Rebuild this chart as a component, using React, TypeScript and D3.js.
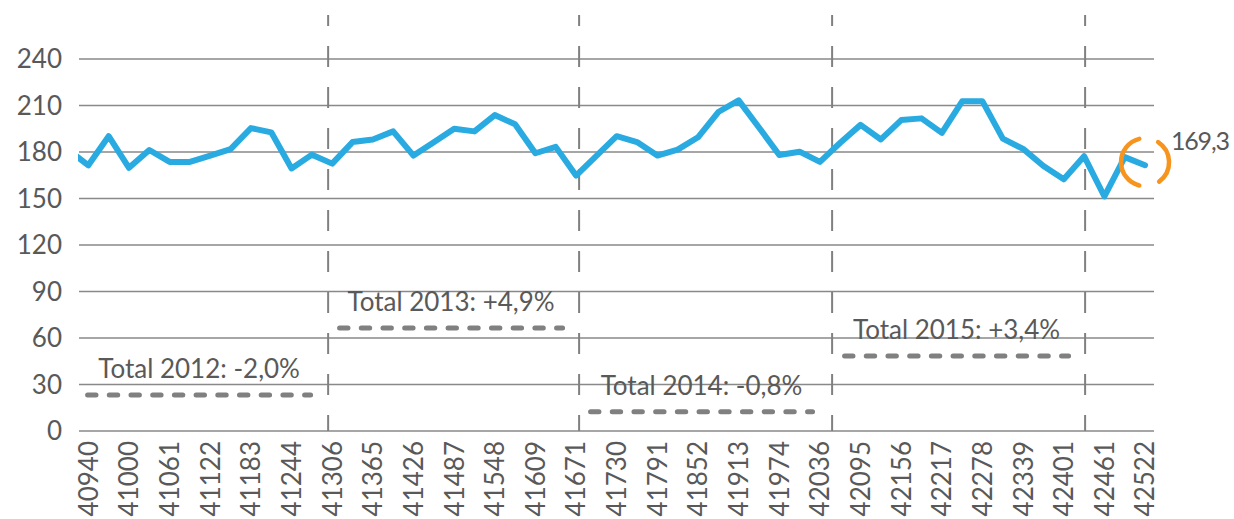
import React from "react";
import * as d3 from "d3";

// Monthly values, Jan 2012 .. Jun 2016 (Jan 2012 falls just left of the plot and is clipped)
const values2012 = [181.5, 171.4, 190.2, 169.8, 181.3, 173.6, 173.6, 177.7, 181.9, 195.4, 192.7, 169.4];
const values2013 = [178.3, 172.5, 186.4, 188.1, 193.3, 177.7, 186.3, 195.0, 193.3, 203.8, 197.9, 179.2];
const values2014 = [183.3, 164.8, 177.5, 190.2, 186.4, 177.7, 181.5, 189.5, 205.8, 213.3, 195.8, 178.1];
const values2015 = [180.2, 173.6, 186.0, 197.5, 188.1, 200.6, 201.7, 192.3, 212.7, 212.7, 188.6, 182.0];
const values2016 = [171.0, 162.4, 177.3, 151.3, 176.7, 171.5];
const values = [...values2012, ...values2013, ...values2014, ...values2015, ...values2016];

// Category labels (Excel date serials), one every two months starting Feb 2012 (index 1)
const tickLabels = [
  "40940", "41000", "41061", "41122", "41183", "41244", "41306", "41365", "41426",
  "41487", "41548", "41609", "41671", "41730", "41791", "41852", "41913", "41974",
  "42036", "42095", "42156", "42217", "42278", "42339", "42401", "42461", "42522",
];
const yTicks = [0, 30, 60, 90, 120, 150, 180, 210, 240];

// Year dividers (in month-index units)
const dividers = [12.8, 25.15, 37.6, 50.05];

// Annual annotations
const annoTexts = ["Total 2012: -2,0%", "Total 2013: +4,9%", "Total 2014: -0,8%", "Total 2015: +3,4%"];
const annoLevels = [23.2, 66.5, 12.5, 48.4];
const annoStarts = [0.84, 13.24, 25.59, 38.09];
const annoEnds = [12.06, 24.46, 36.76, 49.36];

const lastLabel = "169,3";

const W = 1234;
const H = 519;
const FONT = "Lato, 'Open Sans', sans-serif";
const TEXT = "#595959";
const GRID = "#898989";

export default function App() {
  const x = d3.scaleLinear().domain([0.54, 53.44]).range([79, 1154]);
  const y = d3.scaleLinear().domain([0, 240]).range([431, 59]);
  const [x0, x1] = x.range();
  const plotTop = 15;

  const line = d3
    .line<number>()
    .x((_, i) => x(i))
    .y((d) => y(d));

  const lastI = values.length - 1;
  const cx = x(lastI);
  const cy = y(values[lastI]) - 3;
  const r = 24;
  const deg = Math.PI / 180;
  const arcPath = (a0: number, a1: number) => {
    const p = d3.path();
    p.arc(cx, cy, r, a0 * deg, a1 * deg);
    return p.toString();
  };

  return (
    <div style={{ position: "absolute", left: 0, top: 0 }}>
      <svg width={W} height={H} style={{ display: "block", background: "#fff" }}>
        <defs>
          <clipPath id="plot">
            <rect x={x0 - 1} y={0} width={x1 - x0 + 2} height={H} />
          </clipPath>
        </defs>

        {/* horizontal gridlines */}
        {yTicks.map((t) => (
          <line key={t} x1={x0} x2={x1} y1={y(t)} y2={y(t)} stroke={GRID} strokeWidth={1.6} />
        ))}

        {/* y labels */}
        {yTicks.map((t) => (
          <text
            key={"yl" + t}
            x={62}
            y={y(t)}
            dy="0.36em"
            textAnchor="end"
            fontFamily={FONT}
            fontSize={26}
            fill={TEXT}
          >
            {t}
          </text>
        ))}

        {/* year dividers */}
        {dividers.map((d, i) => (
          <line
            key={"dv" + i}
            x1={x(d)}
            x2={x(d)}
            y1={plotTop}
            y2={y(0)}
            stroke="#808080"
            strokeWidth={2}
            strokeDasharray="21,20"
            strokeDashoffset={10}
          />
        ))}

        {/* annotations */}
        {annoTexts.map((t, i) => {
          const xa = x(annoStarts[i]);
          const xb = x(annoEnds[i]);
          const ya = y(annoLevels[i]);
          return (
            <g key={"an" + i}>
              <line
                x1={xa + 2.5}
                x2={xb - 2.5}
                y1={ya}
                y2={ya}
                stroke="#808080"
                strokeWidth={5}
                strokeLinecap="round"
                strokeDasharray="8.4,13.3"
              />
              <text
                x={(xa + xb) / 2}
                y={ya - 17}
                textAnchor="middle"
                fontFamily={FONT}
                fontSize={26}
                fill={TEXT}
              >
                {t}
              </text>
            </g>
          );
        })}

        {/* x labels */}
        {tickLabels.map((t, i) => {
          const xi = x(1 + 2 * i);
          return (
            <text
              key={"xl" + t}
              transform={`translate(${xi},${441}) rotate(-90)`}
              dy="0.36em"
              textAnchor="end"
              fontFamily={FONT}
              fontSize={26}
              fill={TEXT}
            >
              {t}
            </text>
          );
        })}

        {/* data line */}
        <path
          d={line(values) || ""}
          fill="none"
          stroke="#29ABE2"
          strokeWidth={6}
          strokeLinejoin="round"
          strokeLinecap="round"
          clipPath="url(#plot)"
        />

        {/* highlight */}
        <path d={arcPath(104, 256)} fill="none" stroke="#F7941D" strokeWidth={4.5} strokeLinecap="round" />
        <path d={arcPath(-57, 54)} fill="none" stroke="#F7941D" strokeWidth={4.5} strokeLinecap="round" />
        <text
          x={1171}
          y={150}
          fontFamily={FONT}
          fontSize={25}
          letterSpacing={-1.2}
          fill={TEXT}
        >
          {lastLabel}
        </text>
      </svg>
    </div>
  );
}
